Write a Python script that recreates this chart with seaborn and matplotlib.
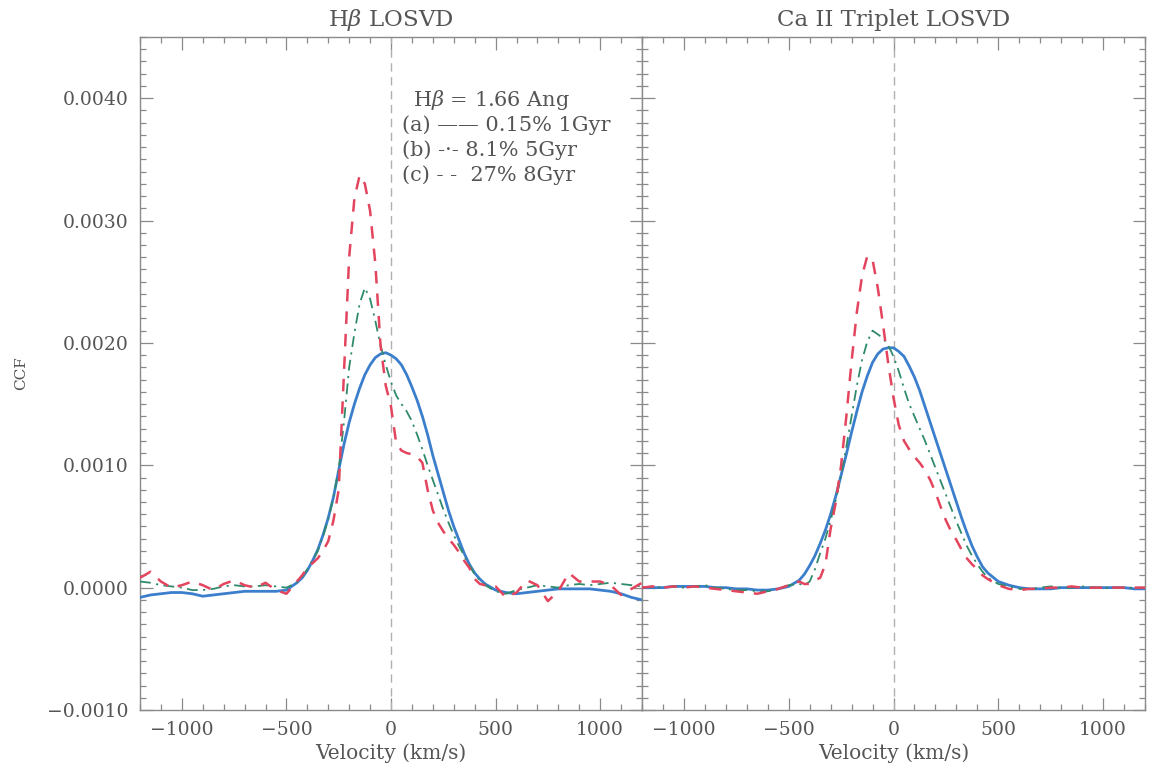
import numpy as np
import pandas as pd
import matplotlib
matplotlib.use("Agg")
import matplotlib.pyplot as plt
import seaborn as sns
from matplotlib.ticker import MultipleLocator, FuncFormatter

# ---------------- data (CCF values in units of 1e-4) ----------------
velocity = [-1200, -1150, -1100, -1050, -1000, -950, -900, -850, -800, -750, -700, -650, -600, -550, -500,
            -450, -425, -400, -375, -350, -325, -300, -275, -250, -225, -200, -175, -150, -125, -100, -75, -50, -25,
            0, 25, 50, 75, 100, 125, 150, 175, 200, 225, 250, 275, 300, 325, 350, 375, 400, 425, 450,
            500, 550, 600, 650, 700, 750, 800, 850, 900, 950, 1000, 1050, 1100, 1150, 1200]

hb_a = [-0.8, -0.6, -0.5, -0.4, -0.4, -0.5, -0.7, -0.6, -0.5, -0.4, -0.3, -0.3, -0.3, -0.3, -0.2,
        0.4, 0.8, 1.4, 2.2, 3.1, 4.3, 5.7, 7.4, 9.6, 11.7, 13.5, 15.0, 16.3, 17.4, 18.2, 18.8, 19.1, 19.2,
        19.0, 18.7, 18.2, 17.4, 16.4, 15.3, 14.0, 12.5, 10.8, 9.3, 7.8, 6.3, 5.0, 3.9, 2.8, 1.9, 1.2, 0.7, 0.3,
        -0.2, -0.4, -0.5, -0.4, -0.3, -0.2, -0.1, -0.1, -0.1, -0.1, -0.2, -0.3, -0.5, -0.8, -1.0]
hb_b = [0.5, 0.4, 0.2, 0.1, 0.0, -0.2, -0.2, -0.1, 0.1, 0.2, 0.1, 0.1, 0.2, 0.1, 0.0,
        0.4, 0.9, 1.5, 2.2, 3.0, 4.2, 5.6, 7.4, 9.7, 13.5, 18.0, 20.8, 23.2, 24.5, 23.6, 21.8, 19.8, 18.2,
        16.8, 15.7, 15.0, 14.4, 13.6, 12.5, 11.3, 10.0, 8.8, 7.6, 6.4, 5.3, 4.3, 3.4, 2.6, 1.8, 1.1, 0.6, 0.2,
        -0.3, -0.5, -0.2, 0.0, 0.2, 0.1, 0.0, 0.2, 0.3, 0.2, 0.3, 0.4, 0.3, 0.2, 0.1]
hb_c = [0.8, 1.3, 0.5, 0.0, 0.2, 0.5, 0.2, -0.2, 0.3, 0.6, 0.2, 0.0, 0.4, -0.2, -0.5,
        0.5, 1.0, 1.6, 2.0, 2.4, 3.0, 3.8, 5.5, 8.0, 17.5, 27.0, 31.8, 33.7, 33.0, 30.8, 26.5, 19.8, 16.5,
        14.8, 11.8, 11.2, 11.0, 10.9, 10.7, 10.2, 8.0, 6.3, 5.3, 4.6, 4.0, 3.5, 2.9, 2.2, 1.6, 0.7, 0.3, 0.2,
        0.1, -0.8, -0.4, 0.6, 0.2, -1.1, -0.3, 1.2, 0.5, 0.5, 0.5, 0.2, -0.6, -0.1, 0.4]

ca_a = [0.0, 0.0, 0.0, 0.1, 0.1, 0.1, 0.1, 0.0, 0.0, -0.1, -0.1, -0.2, -0.2, -0.1, 0.1,
        0.6, 1.1, 1.8, 2.6, 3.6, 4.7, 6.0, 7.5, 9.2, 10.9, 12.7, 14.4, 16.0, 17.3, 18.4, 19.1, 19.5, 19.6,
        19.6, 19.3, 18.9, 18.1, 17.2, 16.1, 14.8, 13.5, 12.2, 10.9, 9.6, 8.3, 7.0, 5.7, 4.5, 3.4, 2.5, 1.7, 1.2,
        0.5, 0.2, 0.0, -0.1, -0.1, -0.1, 0.0, 0.0, 0.0, 0.0, 0.0, 0.0, 0.0, -0.1, -0.1]
ca_b = [0.0, 0.1, 0.0, 0.1, 0.0, 0.1, 0.2, 0.0, -0.1, -0.2, -0.2, -0.3, -0.3, -0.1, 0.2,
        0.3, 0.2, 0.5, 1.5, 2.8, 4.0, 5.5, 7.2, 9.2, 11.5, 14.0, 16.5, 18.6, 20.1, 21.0, 20.7, 20.4, 19.8,
        18.9, 17.7, 16.3, 15.0, 14.0, 13.0, 12.0, 10.9, 9.8, 8.7, 7.6, 6.5, 5.4, 4.4, 3.4, 2.6, 1.9, 1.3, 0.8,
        0.3, 0.1, -0.1, -0.1, 0.0, 0.1, 0.0, 0.0, 0.1, 0.0, 0.0, 0.0, 0.0, 0.0, 0.0]
ca_c = [0.0, 0.1, 0.0, 0.1, 0.0, 0.1, 0.0, -0.1, -0.2, -0.3, -0.4, -0.5, -0.3, -0.1, 0.2,
        0.5, 0.3, 0.3, 0.6, 0.8, 1.9, 4.8, 7.0, 10.0, 14.0, 18.5, 22.5, 25.5, 27.1, 26.8, 24.5, 21.5, 18.3,
        15.5, 13.3, 12.0, 11.3, 10.7, 10.2, 9.6, 8.8, 7.8, 6.6, 5.5, 4.6, 3.9, 3.1, 2.4, 1.9, 1.5, 1.0, 0.7,
        0.2, -0.1, -0.2, -0.1, -0.1, 0.0, 0.0, 0.1, 0.0, 0.0, 0.0, 0.0, 0.0, 0.0, 0.0]
UNIT = 1e-4

panel_titles = [r"H$\beta$ LOSVD", "Ca II Triplet LOSVD"]
legend_lines = [r"H$\beta$ = 1.66 Ang",
                "(a) \u2014\u2014 0.15% 1Gyr",
                "(b) -\u00b7- 8.1% 5Gyr",
                "(c) - -  27% 8Gyr"]

# ---------------- style ----------------
sns.set_theme(style="ticks")
plt.rcParams['font.family'] = ['DejaVu Serif', 'DejaVu Sans']
plt.rcParams['mathtext.fontset'] = 'dejavuserif'
TEXT = '#555555'
AXC = '#8a8a8a'
C_A = '#3b7fcc'
C_B = '#2f8a6c'
C_C = '#e4455e'

W, H = 1153, 774
fig = plt.figure(figsize=(W / 100, H / 100), dpi=100)
fig.patch.set_facecolor('white')
top, bot = 37, 710
ax1 = fig.add_axes([140 / W, 1 - bot / H, (642 - 140) / W, (bot - top) / H])
ax2 = fig.add_axes([642 / W, 1 - bot / H, (1145 - 642) / W, (bot - top) / H], sharey=ax1)

panels = [(ax1, hb_a, hb_b, hb_c), (ax2, ca_a, ca_b, ca_c)]
for i, (ax, a, b, c) in enumerate(panels):
    df = pd.DataFrame({'v': velocity,
                       'a': np.array(a) * UNIT,
                       'b': np.array(b) * UNIT,
                       'c': np.array(c) * UNIT})
    ax.axvline(0, color='#b0b0b0', lw=1.0, ls=(0, (6, 4)), zorder=1)
    sns.lineplot(data=df, x='v', y='a', ax=ax, color=C_A, lw=2.0,
                 estimator=None, sort=False, zorder=3)
    sns.lineplot(data=df, x='v', y='b', ax=ax, color=C_B, lw=1.3,
                 ls=(0, (6, 3, 1.2, 3)), estimator=None, sort=False, zorder=3)
    sns.lineplot(data=df, x='v', y='c', ax=ax, color=C_C, lw=1.8,
                 ls=(0, (5, 4)), estimator=None, sort=False, zorder=4)

    ax.set_xlim(-1200, 1200)
    ax.set_ylim(-0.001, 0.0045)
    ax.xaxis.set_major_locator(MultipleLocator(500))
    ax.xaxis.set_minor_locator(MultipleLocator(100))
    ax.yaxis.set_major_locator(MultipleLocator(0.001))
    ax.yaxis.set_minor_locator(MultipleLocator(0.0001))
    ax.tick_params(which='both', direction='in', top=True, right=True,
                   color=AXC, labelcolor=TEXT, labelsize=13.5, width=0.9)
    ax.tick_params(which='major', length=9, pad=8)
    ax.tick_params(which='minor', length=4.5)
    for s in ax.spines.values():
        s.set_color(AXC)
        s.set_linewidth(1.0)
    ax.set_xlabel("Velocity (km/s)", fontsize=14.5, color=TEXT, labelpad=3)
    ax.set_title(panel_titles[i], fontsize=16.5, color=TEXT, pad=8)
    ax.set_facecolor('white')

ax1.yaxis.set_major_formatter(FuncFormatter(lambda v, p: ("%.4f" % v).replace('-', '\u2212')))
ax1.set_ylabel("CCF", fontsize=11, color=TEXT)
ax1.yaxis.set_label_coords(-0.222, 0.5)
ax2.tick_params(labelleft=False)
ax2.set_ylabel("")

# legend block (text)
ys = [0.906, 0.869, 0.832, 0.795]
xs = [0.543, 0.522, 0.522, 0.522]
for t, x, y in zip(legend_lines, xs, ys):
    ax1.text(x, y, t, transform=ax1.transAxes, fontsize=15, color=TEXT,
             ha='left', va='center')

fig.savefig('out.png', dpi=100, facecolor='white')
